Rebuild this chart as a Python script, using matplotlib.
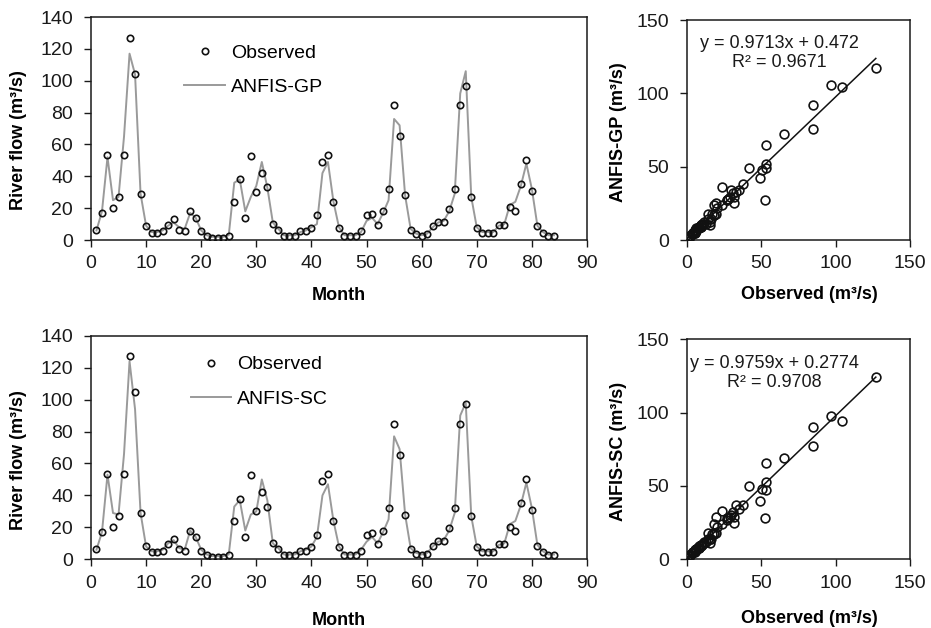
import matplotlib
matplotlib.use("Agg")
import matplotlib.pyplot as plt
from matplotlib.lines import Line2D

plt.rcParams['font.family'] = ['Liberation Sans', 'DejaVu Sans']

months = list(range(1, 85))

observed = [
    6.5, 17, 53.5, 20, 27, 53.5, 127, 104.5, 29, 8.5,
    4.5, 4.5, 5.5, 9.5, 13, 6.5, 5.5, 18, 14, 5.5,
    2.5, 1.5, 1.5, 1.5, 2.5, 24, 38, 14, 52.5, 30,
    42, 33, 10, 6.5, 2.5, 2.5, 2.5, 5.5, 5.5, 7.5,
    15.5, 49, 53.5, 24, 7.5, 2.5, 2.5, 2.5, 5.5, 15.5,
    16.5, 9.5, 18, 32, 85, 65.5, 28, 6.5, 3.5, 2.5,
    3.5, 8.5, 11.5, 11.5, 19.5, 32, 85, 97, 27, 7.5,
    4.5, 4.5, 4.5, 9.5, 9.5, 20.5, 18, 35, 50.5, 31,
    8.5, 4.5, 2.5, 2.5]

anfis_gp = [
    6, 18, 52, 25, 27, 65, 117, 104, 29, 9,
    5, 5, 6, 9, 11, 8, 7, 17, 14, 6,
    3, 2, 2, 2, 3, 36, 38, 18, 27, 34,
    49, 33, 11, 7, 3, 3, 3, 5, 6, 8,
    10, 42, 49, 24, 8, 3, 3, 3, 5, 12,
    14, 10, 17, 25, 76, 72, 28, 7, 4, 3,
    4, 8, 11, 12, 18, 29, 92, 106, 27, 8,
    5, 5, 5, 9, 10, 22, 24, 34, 48, 32,
    9, 5, 3, 3]

anfis_sc = [
    6, 17, 53, 29, 28, 66, 124, 94, 29, 8,
    5, 5, 6, 10, 12, 7, 6, 18, 14, 6,
    3, 2, 2, 2, 3, 33, 37, 18, 28, 30,
    50, 37, 10, 7, 3, 3, 3, 5, 6, 8,
    14, 40, 47, 24, 8, 3, 3, 3, 6, 11,
    14, 10, 17, 25, 77, 69, 28, 7, 4, 3,
    4, 8, 11, 12, 18, 29, 90, 98, 27, 8,
    5, 5, 5, 9, 10, 22, 24, 34, 48, 32,
    9, 5, 3, 3]

gp_slope, gp_intercept, gp_r2 = 0.9713, 0.472, 0.9671
sc_slope, sc_intercept, sc_r2 = 0.9759, 0.2774, 0.9708

ts_xticks = [0, 10, 20, 30, 40, 50, 60, 70, 80, 90]
ts_yticks = [0, 20, 40, 60, 80, 100, 120, 140]
sc_ticks = [0, 50, 100, 150]

LINE_COLOR = '#9a9a9a'
TICK_FS = 14
LABEL_FS = 13

fig = plt.figure(figsize=(9.31, 6.28), dpi=100)

def style(ax):
    for s in ax.spines.values():
        s.set_linewidth(1.1)
        s.set_color('#1a1a1a')
    ax.tick_params(direction='out', length=5, width=1.0, labelsize=TICK_FS,
                   colors='#1a1a1a')
    ax.tick_params(axis='y', pad=8)
    ax.tick_params(axis='x', pad=6)

def ts_panel(rect, model, name, leg_anchor, ylab_y, xlab_y):
    ax = fig.add_axes(rect)
    ax.plot(months, model, color=LINE_COLOR, lw=1.4, zorder=2)
    ax.plot(months, observed, 'o', ms=4.6, mfc='none', mec='#111111', mew=1.2, zorder=3)
    ax.set_xlim(0, 90)
    ax.set_ylim(0, 140)
    ax.set_xticks(ts_xticks)
    ax.set_yticks(ts_yticks)
    style(ax)
    ax.set_ylabel('River flow (m\u00b3/s)', fontsize=LABEL_FS, fontweight='bold')
    ax.set_xlabel('Month', fontsize=LABEL_FS, fontweight='bold')
    ax.yaxis.set_label_coords(-0.129, ylab_y)
    ax.xaxis.set_label_coords(0.5, xlab_y)
    handles = [Line2D([], [], ls='none', marker='o', ms=4.6, mfc='none', mec='#111111', mew=1.2),
               Line2D([], [], color=LINE_COLOR, lw=1.4)]
    ax.legend(handles, ['Observed', name], loc='upper left', bbox_to_anchor=leg_anchor,
              frameon=False, fontsize=TICK_FS, borderpad=0, borderaxespad=0,
              handlelength=2.1, handletextpad=0.3, labelspacing=0.85)
    return ax

def sc_panel(rect, model, slope, intercept, r2, name, eq_pos, xlab_y):
    ax = fig.add_axes(rect)
    ax.plot(observed, model, 'o', ms=6.3, mfc='none', mec='#111111', mew=1.2, zorder=3)
    xmax = max(observed)
    ax.plot([0, xmax], [intercept, slope * xmax + intercept], color='#111111', lw=1.1, zorder=2)
    ax.set_xlim(0, 150)
    ax.set_ylim(0, 150)
    ax.set_xticks(sc_ticks)
    ax.set_yticks(sc_ticks)
    style(ax)
    ax.set_ylabel(name + ' (m\u00b3/s)', fontsize=LABEL_FS, fontweight='bold')
    ax.set_xlabel('Observed (m\u00b3/s)', fontsize=LABEL_FS, fontweight='bold')
    ax.yaxis.set_label_coords(-0.269, 0.492)
    ax.xaxis.set_label_coords(0.548, xlab_y)
    ax.text(eq_pos[0], eq_pos[1], f'y = {slope}x + {intercept}\nR\u00b2 = {r2}',
            ha='center', va='center', fontsize=13, linespacing=1.15, color='#1a1a1a')
    return ax

ts_panel([0.0977, 0.6178, 0.5328, 0.3551], anfis_gp, 'ANFIS-GP', (0.188, 0.878), 0.45, -0.209)
ts_panel([0.0977, 0.1094, 0.5328, 0.3560], anfis_sc, 'ANFIS-SC', (0.201, 0.91), 0.445, -0.237)
sc_panel([0.7376, 0.6178, 0.2399, 0.3503], anfis_gp, gp_slope, gp_intercept, gp_r2,
         'ANFIS-GP', (62, 127.5), -0.209)
sc_panel([0.7376, 0.1094, 0.2399, 0.3503], anfis_sc, sc_slope, sc_intercept, sc_r2,
         'ANFIS-SC', (59, 127.3), -0.23)

fig.savefig('out.png', dpi=100)
